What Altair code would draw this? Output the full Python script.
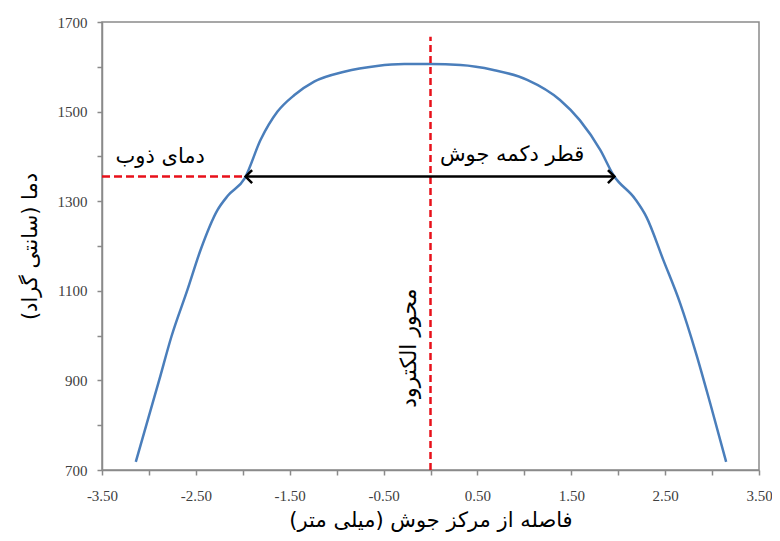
import altair as alt
import pandas as pd

# Temperature profile across the weld
dist_mm = [-3.14, -2.89, -2.76, -2.59, -2.45, -2.27, -2.16, -1.98, -1.81, -1.63,
           -1.45, -1.24, -0.92, -0.57, -0.28, 0.0, 0.32, 0.67, 1.03, 1.38,
           1.59, 1.81, 1.95, 2.18, 2.30, 2.48, 2.66, 2.83, 2.98, 3.15]
temp_c = [718, 901, 998, 1102, 1191, 1280, 1312, 1351, 1437, 1500,
          1537, 1567, 1589, 1602, 1606, 1606, 1604, 1593, 1571, 1526,
          1481, 1414, 1358, 1305, 1265, 1169, 1072, 960, 849, 718]

melt_temp = [1355]
nugget_edges = [-1.97, 1.96]
electrode_axis = [0.0]
electrode_top = [1667]

x_ticks = [-3.5, -3.0, -2.5, -2.0, -1.5, -1.0, -0.5, 0.0, 0.5, 1.0, 1.5, 2.0, 2.5, 3.0, 3.5]
y_ticks = [700, 800, 900, 1000, 1100, 1200, 1300, 1400, 1500, 1600, 1700]

RLM = "\u200f"
x_title = "فاصله از مرکز جوش (میلی متر)" + RLM
y_title = "دما (سانتی گراد)" + RLM
ann_text = ["دمای ذوب", "قطر دکمه جوش"]
ann_x = [-2.88, 0.87]
ann_y = [1399, 1403]
axis_label = "محور الکترود"
axis_label_pos = [-0.23, 972]

AR_FONT = "DejaVu Sans"
RED = "#e8101a"
BLUE = "#4a7ebb"

curve_df = pd.DataFrame({"x": dist_mm, "y": temp_c})

xs = alt.Scale(domain=[-3.5, 3.5], nice=False, zero=False)
ys = alt.Scale(domain=[700, 1700], nice=False, zero=False)

xaxis = alt.Axis(values=x_ticks, title=x_title, labelFlush=False,
                 labelExpr="(datum.value + 3.5) % 1 == 0 ? replace(format(datum.value, '.2f'), '\u2212', '-') : ''",
                 labelPadding=13, titlePadding=6)
yaxis = alt.Axis(values=y_ticks, title=y_title, labelFlush=False,
                 labelExpr="(datum.value - 700) % 200 == 0 ? format(datum.value, 'd') : ''",
                 labelPadding=10, titlePadding=17)

curve = alt.Chart(curve_df).mark_line(color=BLUE, strokeWidth=2.5, interpolate="monotone").encode(
    x=alt.X("x:Q", scale=xs, axis=xaxis),
    y=alt.Y("y:Q", scale=ys, axis=yaxis),
)

vline_df = pd.DataFrame({"x": electrode_axis, "y": [700], "y2": electrode_top})
vline = alt.Chart(vline_df).mark_rule(color=RED, strokeWidth=2.5, strokeDash=[7, 4]).encode(
    x="x:Q", y="y:Q", y2="y2:Q")

hline_df = pd.DataFrame({"x": [-3.5], "x2": [nugget_edges[0]], "y": melt_temp})
hline = alt.Chart(hline_df).mark_rule(color=RED, strokeWidth=2.5, strokeDash=[8, 4]).encode(
    x="x:Q", x2="x2:Q", y="y:Q")

arrow_df = pd.DataFrame({"x": [nugget_edges[0]], "x2": [nugget_edges[1]], "y": melt_temp})
arrow = alt.Chart(arrow_df).mark_rule(color="black", strokeWidth=2.5).encode(
    x="x:Q", x2="x2:Q", y="y:Q")

left_head = alt.Chart(pd.DataFrame({"x": [nugget_edges[0]], "y": melt_temp})).mark_point(
    shape="M1,-1L0,0L1,1", filled=False, stroke="black", strokeWidth=2.5, size=170, opacity=1
).encode(x="x:Q", y="y:Q")
right_head = alt.Chart(pd.DataFrame({"x": [nugget_edges[1]], "y": melt_temp})).mark_point(
    shape="M-1,-1L0,0L-1,1", filled=False, stroke="black", strokeWidth=2.5, size=170, opacity=1
).encode(x="x:Q", y="y:Q")

ann_df = pd.DataFrame({"x": ann_x, "y": ann_y, "t": ann_text})
ann = alt.Chart(ann_df).mark_text(font=AR_FONT, fontSize=21, color="black").encode(
    x="x:Q", y="y:Q", text="t:N")

vtext_df = pd.DataFrame({"x": [axis_label_pos[0]], "y": [axis_label_pos[1]], "t": [axis_label]})
vtext = alt.Chart(vtext_df).mark_text(font=AR_FONT, fontSize=22, color="black", angle=270).encode(
    x="x:Q", y="y:Q", text="t:N")

chart = alt.layer(curve, vline, hline, arrow, left_head, right_head, ann, vtext).properties(
    width=657, height=448,
    autosize=alt.AutoSizeParams(type="none"),
    padding={"left": 94, "top": 14, "right": 13, "bottom": 62},
).configure_view(
    stroke="#8a8a8a", strokeWidth=1.5
).configure_axis(
    grid=False,
    domainColor="#8a8a8a", domainWidth=1.5,
    tickColor="#8a8a8a", tickWidth=1.5, tickSize=5,
    labelFont="Liberation Serif", labelFontSize=15, labelColor="#404040",
    titleFont=AR_FONT, titleFontSize=21, titleFontWeight="normal", titleColor="black",
)

chart.save("out.html", embed_options={"renderer": "svg", "actions": False})
